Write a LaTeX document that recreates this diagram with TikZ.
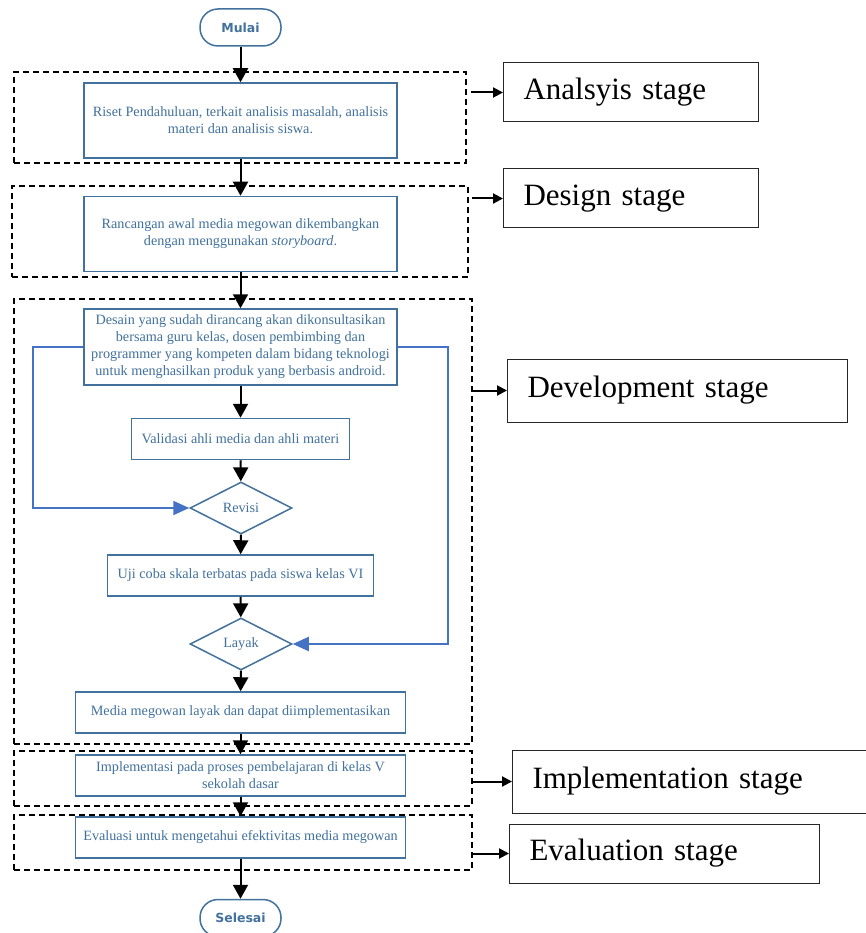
\documentclass[tikz,border=0pt]{standalone}
\usepackage{fontspec}
\setmainfont{Liberation Serif}
\newfontfamily\termfont{DejaVu Sans}
\usepackage{xcolor}
\usepackage{tikz}
\usetikzlibrary{shapes.geometric, arrows.meta, positioning}

\definecolor{boxblue}{HTML}{41719C}
\definecolor{loopblue}{HTML}{4472C4}

\begin{document}
\begin{tikzpicture}[x=1pt, y=-1pt, align=center]
    % Define styles
    \tikzstyle{term} = [rectangle, rounded corners=18pt, minimum width=81pt, minimum height=37pt, draw=boxblue, line width=1.5pt, fill=white, text=boxblue, font=\termfont\bfseries\fontsize{12.5}{14}\selectfont]
    \tikzstyle{process} = [rectangle, inner sep=1pt, draw=boxblue, line width=1.5pt, fill=white, text=boxblue, font=\fontsize{14.2}{17}\selectfont]
    \tikzstyle{decision} = [diamond, aspect=2, inner sep=0pt, minimum width=102pt, minimum height=52pt, draw=boxblue, line width=1.5pt, fill=white, text=boxblue, font=\fontsize{14.2}{17}\selectfont]
    \tikzstyle{phase} = [rectangle, draw=black, line width=1.5pt, dash pattern=on 6pt off 4pt]
    \tikzstyle{stage} = [rectangle, anchor=west, inner xsep=20pt, align=left, draw=black!85, line width=1pt, font=\fontsize{31}{35}\selectfont]
    \tikzstyle{arrow} = [line width=2pt, -{Triangle[width=15pt,length=14pt]}]
    \tikzstyle{loop} = [line width=2pt, draw=loopblue, -{Triangle[width=14pt,length=16pt]}]
    \tikzstyle{stagearrow} = [line width=2pt, -{Triangle[width=10pt,length=10pt]}]

    \useasboundingbox (0,0) rectangle (865,933);

    % Stage frames
    \node (phase1) [phase, minimum width=452pt, minimum height=91pt] at (240,117.5) {};
    \node (phase2) [phase, minimum width=456pt, minimum height=91pt] at (240,231.5) {};
    \node (phase3) [phase, minimum width=458pt, minimum height=445pt] at (243,521.5) {};
    \node (phase4) [phase, minimum width=458pt, minimum height=55pt] at (243,778.5) {};
    \node (phase5) [phase, minimum width=458pt, minimum height=55pt] at (243,842.5) {};

    % Nodes
    \node (start) [term] at (240.5,27.5) {Mulai};
    \node (riset) [process, minimum width=313pt, minimum height=75pt] at (240.5,120.5) {Riset Pendahuluan, terkait analisis masalah, analisis\\ materi dan analisis siswa.};
    \node (rancang) [process, minimum width=313pt, minimum height=75pt] at (240.5,234) {Rancangan awal media megowan dikembangkan\\ dengan menggunakan \textit{storyboard}.};
    \node (desain) [process, minimum width=313pt, minimum height=76pt] at (240.5,347) {Desain yang sudah dirancang akan dikonsultasikan\\ bersama guru kelas, dosen pembimbing dan\\ programmer yang kompeten dalam bidang teknologi\\ untuk menghasilkan produk yang berbasis android.};
    \node (validasi) [process, minimum width=218pt, minimum height=41pt] at (240.5,439) {Validasi ahli media dan ahli materi};
    \node (revisi) [decision] at (241,508) {Revisi};
    \node (uji) [process, minimum width=266pt, minimum height=41pt] at (240.5,575.5) {Uji coba skala terbatas pada siswa kelas VI};
    \node (layak) [decision] at (241,644) {Layak};
    \node (media) [process, minimum width=330pt, minimum height=41pt] at (240.5,712.5) {Media megowan layak dan dapat diimplementasikan};
    \node (impl) [process, minimum width=330pt, minimum height=41pt] at (240.5,775.5) {Implementasi pada proses pembelajaran di kelas V\\ sekolah dasar};
    \node (eval) [process, minimum width=330pt, minimum height=41pt] at (240.5,837.5) {Evaluasi untuk mengetahui efektivitas media megowan};
    \node (finish) [term] at (240.5,918) {Selesai};

    % Stage labels
    \node (ana) [stage, text width=215pt, minimum height=59pt] at (503,92.5) {Analsyis stage};
    \node (des) [stage, text width=215pt, minimum height=59pt] at (503,198.5) {Design stage};
    \node (dev) [stage, text width=300pt, minimum height=63pt] at (507,390.5) {Development stage};
    \node (imp) [stage, text width=314pt, minimum height=63pt] at (512,781.5) {Implementation stage};
    \node (eva) [stage, text width=270pt, minimum height=59pt] at (509,853.5) {Evaluation stage};

    % Arrows
    \draw [arrow] (start) -- (riset);
    \draw [arrow] (riset) -- (rancang);
    \draw [arrow] (rancang) -- (desain);
    \draw [arrow] (desain) -- (validasi);
    \draw [arrow] (validasi) -- (revisi);
    \draw [arrow] (revisi) -- (uji);
    \draw [arrow] (uji) -- (layak);
    \draw [arrow] (layak) -- (media);
    \draw [arrow] (media) -- (impl);
    \draw [arrow] (impl) -- (eval);
    \draw [arrow] (eval) -- (finish);
    \draw [loop] (desain.west) -- ++(-50,0) |- (revisi.west);
    \draw [loop] (desain.east) -- ++(50,0) |- (layak.east);

    \draw [stagearrow, shorten <=4pt] (phase1.east |- ana.west) -- (ana.west);
    \draw [stagearrow, shorten <=3pt] (phase2.east |- des.west) -- (des.west);
    \draw [stagearrow] (phase3.east |- dev.west) -- (dev.west);
    \draw [stagearrow] (phase4.east |- imp.west) -- (imp.west);
    \draw [stagearrow] (phase5.east |- eva.west) -- (eva.west);
\end{tikzpicture}
\end{document}
